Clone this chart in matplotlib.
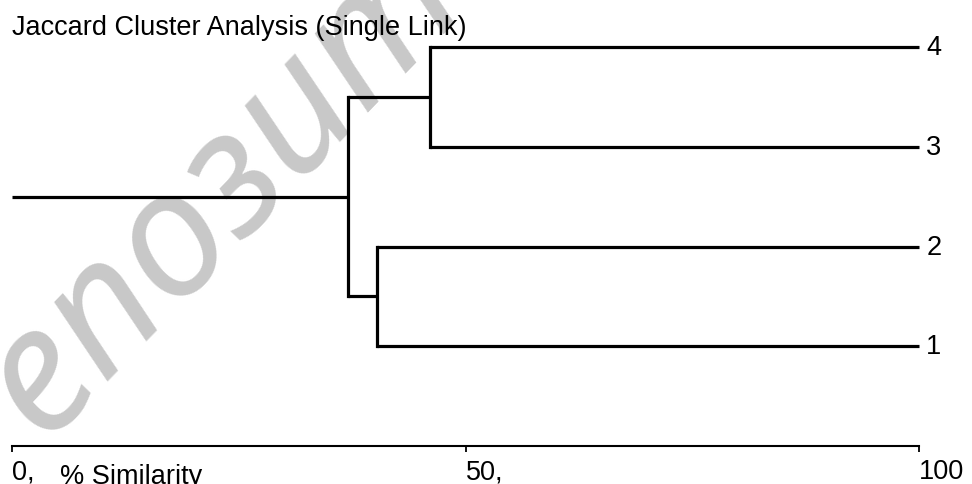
import matplotlib
matplotlib.use("Agg")
import matplotlib.pyplot as plt

# leaves (bottom to top) and merges: node ids 0-3 are leaves, 4.. are merged clusters
leaf_labels = ["1", "2", "3", "4"]
merge_a = [0, 2, 4]
merge_b = [1, 3, 5]
merge_sim = [40.2, 46.1, 37.0]   # % similarity at which the merge happens

tick_values = [0, 50, 100]
tick_labels = ["0,", "50,", "100"]

plt.rcParams['font.family'] = ['Liberation Sans', 'DejaVu Sans']

fig = plt.figure(figsize=(9.72, 4.85), dpi=100)
ax = fig.add_axes([0, 0, 1, 1])
ax.set_xlim(-1.323, 105.84)
ax.set_ylim(-0.384, 4.485)

# watermark
ax.text(-3.8, -0.64, "Репозиторий", rotation=46, rotation_mode='anchor',
        ha='left', va='baseline', fontsize=126, fontstyle='italic',
        family=['Noto Sans', 'Open Sans', 'DejaVu Sans'],
        color='#c8c8c8', zorder=0)

node_x = [100.0] * len(leaf_labels)
node_y = [i + 1.0 for i in range(len(leaf_labels))]
lw = 2.3
for a, b, s in zip(merge_a, merge_b, merge_sim):
    ya, yb = node_y[a], node_y[b]
    ax.plot([s, s], [ya, yb], color='black', lw=lw, solid_capstyle='projecting', zorder=2)
    ax.plot([s, node_x[a]], [ya, ya], color='black', lw=lw, solid_capstyle='butt', zorder=2)
    ax.plot([s, node_x[b]], [yb, yb], color='black', lw=lw, solid_capstyle='butt', zorder=2)
    node_x.append(s)
    node_y.append((ya + yb) / 2)

# root stem
ax.plot([0, node_x[-1]], [node_y[-1], node_y[-1]], color='black', lw=lw, solid_capstyle='butt', zorder=2)

for lab, y in zip(leaf_labels, node_y[:len(leaf_labels)]):
    ax.text(100.8, y, lab, ha='left', va='center', fontsize=19.5)

# bottom similarity axis
for s in ['top', 'right', 'left']:
    ax.spines[s].set_visible(False)
ax.spines['bottom'].set_position(('data', 0))
ax.spines['bottom'].set_bounds(0, 100)
ax.spines['bottom'].set_linewidth(1.5)
ax.set_yticks([])
ax.set_xticks(tick_values)
ax.set_xticklabels(tick_labels, ha='left', fontsize=19.5)
ax.tick_params(axis='x', direction='out', length=4, width=1.3, pad=5)
ax.text(5.3, -0.375, "% Similarity", ha='left', va='baseline', fontsize=19.5)

fig.text(12 / 972, 1 - 35 / 485, "Jaccard Cluster Analysis (Single Link)",
         ha='left', va='baseline', fontsize=19.5)

fig.savefig("out.png", dpi=100)
